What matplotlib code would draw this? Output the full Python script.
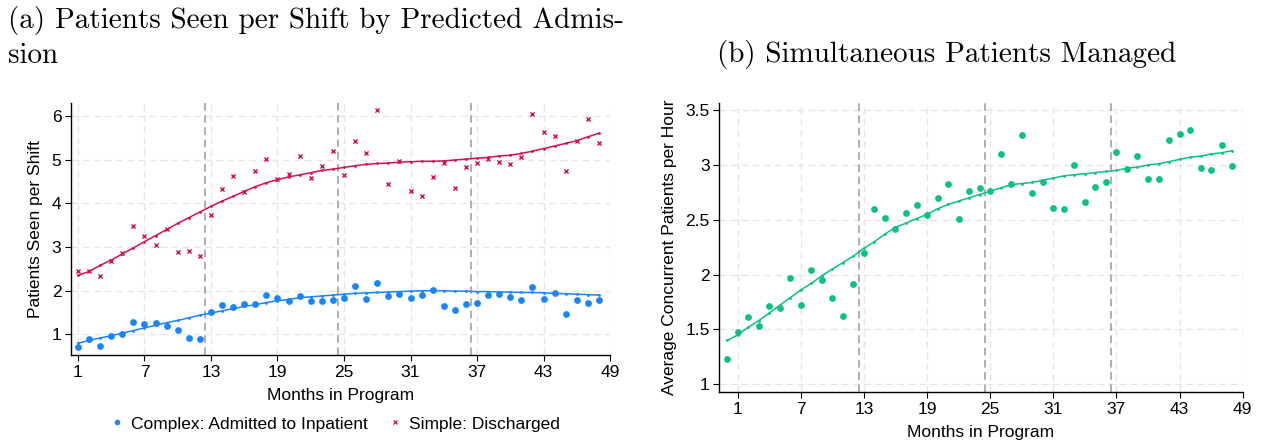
import matplotlib
matplotlib.use("Agg")
import matplotlib.pyplot as plt
from matplotlib.lines import Line2D

plt.rcParams['font.family'] = ['Liberation Sans', 'DejaVu Sans']

# ---------------- data ----------------
months_a = list(range(1, 49))
complex_seen = [0.72, 0.89, 0.74, 0.97, 1.02, 1.28, 1.25, 1.26, 1.20, 1.11, 0.93, 0.89,
                1.51, 1.68, 1.62, 1.70, 1.70, 1.91, 1.84, 1.77, 1.89, 1.76, 1.76, 1.78,
                1.83, 2.11, 1.82, 2.17, 1.89, 1.93, 1.83, 1.90, 2.02, 1.66, 1.56, 1.70,
                1.73, 1.91, 1.92, 1.85, 1.78, 2.08, 1.80, 1.95, 1.47, 1.78, 1.73, 1.79]
simple_seen = [2.46, 2.44, 2.33, 2.68, 2.86, 3.47, 3.26, 3.04, 3.40, 2.88, 2.91, 2.80,
               3.74, 4.32, 4.62, 4.26, 4.73, 5.02, 4.55, 4.68, 5.08, 4.58, 4.86, 5.20,
               4.65, 5.43, 5.15, 6.13, 4.45, 4.96, 4.28, 4.16, 4.61, 4.92, 4.34, 4.82,
               4.93, 5.01, 4.94, 4.89, 5.06, 6.05, 5.62, 5.54, 4.74, 5.42, 5.93, 5.37]
complex_fit = [0.80, 0.86, 0.92, 0.97, 1.03, 1.09, 1.15, 1.21, 1.27, 1.32, 1.38, 1.44,
               1.49, 1.54, 1.59, 1.64, 1.68, 1.73, 1.77, 1.80, 1.84, 1.86, 1.88, 1.90,
               1.92, 1.94, 1.95, 1.96, 1.97, 1.98, 1.99, 2.00, 2.00, 2.00, 1.99, 1.99,
               1.98, 1.98, 1.97, 1.97, 1.96, 1.96, 1.95, 1.94, 1.93, 1.92, 1.91, 1.90]
simple_fit = [2.35, 2.44, 2.58, 2.70, 2.84, 2.98, 3.12, 3.26, 3.40, 3.54, 3.67, 3.80,
              3.93, 4.05, 4.16, 4.27, 4.38, 4.47, 4.54, 4.60, 4.65, 4.70, 4.75, 4.78,
              4.82, 4.86, 4.89, 4.91, 4.92, 4.94, 4.95, 4.96, 4.96, 4.97, 4.99, 5.01,
              5.03, 5.05, 5.08, 5.10, 5.14, 5.19, 5.25, 5.31, 5.37, 5.43, 5.52, 5.60]

months_b = list(range(0, 49))
concurrent = [1.23, 1.48, 1.61, 1.53, 1.71, 1.70, 1.97, 1.72, 2.04, 1.95, 1.79, 1.62, 1.91,
              2.20, 2.60, 2.52, 2.42, 2.56, 2.63, 2.54, 2.70, 2.83, 2.51, 2.76, 2.79,
              2.76, 3.10, 2.83, 3.27, 2.74, 2.84, 2.61, 2.60, 3.00, 2.66, 2.80, 2.84,
              3.12, 2.96, 3.08, 2.87, 2.87, 3.23, 3.28, 3.32, 2.97, 2.95, 3.18, 2.99]
concurrent_fit = [1.40, 1.45, 1.52, 1.58, 1.65, 1.72, 1.79, 1.86, 1.92, 1.99, 2.05, 2.11, 2.17,
                  2.24, 2.30, 2.37, 2.43, 2.47, 2.51, 2.55, 2.60, 2.64, 2.67, 2.70, 2.73,
                  2.76, 2.79, 2.82, 2.83, 2.84, 2.86, 2.88, 2.90, 2.91, 2.92, 2.93, 2.94,
                  2.95, 2.97, 2.98, 3.00, 3.01, 3.03, 3.05, 3.07, 3.08, 3.10, 3.11, 3.13]

x_ticks = [1, 7, 13, 19, 25, 31, 37, 43, 49]
year_breaks = [12.5, 24.5, 36.5]
yticks_a = [1, 2, 3, 4, 5, 6]
yticks_b = [1, 1.5, 2, 2.5, 3, 3.5]
ytick_labels_b = ['1', '1.5', '2', '2.5', '3', '3.5']

BLUE = '#1a85ff'
RED = '#d41159'
GREEN = '#0cc086'
GRID = '#e6e6e6'
BREAK = '#9a9a9a'

TICK_FS = 12.5
LABEL_FS = 12.5
TITLE_FS = 21
TITLE_FONT = 'cmr10'

fig = plt.figure(figsize=(12.63, 4.40), dpi=100)


def style_axes(ax, yticks, yticklabels=None):
    for side in ('top', 'right'):
        ax.spines[side].set_visible(False)
    for side in ('left', 'bottom'):
        ax.spines[side].set_linewidth(1.0)
        ax.spines[side].set_color('black')
    ax.set_xticks(x_ticks)
    ax.set_yticks(yticks)
    if yticklabels is not None:
        ax.set_yticklabels(yticklabels)
    ax.tick_params(axis='both', direction='out', length=4, width=0.8,
                   labelsize=TICK_FS, colors='black', pad=3)
    ax.grid(True, color=GRID, linestyle=(0, (5, 3)), linewidth=1.0)
    ax.set_axisbelow(True)
    for xb in year_breaks:
        ax.axvline(xb, color=BREAK, linestyle=(0, (5, 3)), linewidth=1.1, zorder=1)


# ---------------- panel (a) ----------------
ax1 = fig.add_axes([0.0562, 0.1932, 0.4268, 0.5734])
ax1.set_xlim(0.37, 49)
ax1.set_ylim(0.53, 6.3)
style_axes(ax1, yticks_a)

ax1.plot(months_a, complex_fit, color=BLUE, linewidth=1.1, marker='.', markersize=2, zorder=3)
ax1.plot(months_a, simple_fit, color=RED, linewidth=1.1, marker='.', markersize=2, zorder=3)
ax1.scatter(months_a, complex_seen, s=24, color=BLUE, marker='o', linewidths=0, zorder=4)
ax1.scatter(months_a, simple_seen, s=9, color=RED, marker='x', linewidths=1.0, zorder=4)

ax1.set_xlabel('Months in Program', fontsize=LABEL_FS, labelpad=6)
ax1.set_ylabel('Patients Seen per Shift', fontsize=LABEL_FS, labelpad=6)

handles = [Line2D([], [], linestyle='none', marker='o', markersize=4, color=BLUE,
                  markeredgewidth=0),
           Line2D([], [], linestyle='none', marker='x', markersize=2.5, color=RED,
                  markeredgewidth=0.9)]
fig.legend(handles, ['Complex: Admitted to Inpatient', 'Simple: Discharged'],
           loc='center', bbox_to_anchor=(336 / 1263, 1 - 424 / 440), ncol=2,
           frameon=False, fontsize=LABEL_FS, handlelength=0.6, handletextpad=0.5,
           columnspacing=1.3)

fig.text(8 / 1263, 1 - 28 / 440, '(a) Patients Seen per Shift by Predicted Admis-',
         fontsize=TITLE_FS, family=TITLE_FONT, ha='left', va='baseline')
fig.text(8 / 1263, 1 - 63 / 440, 'sion',
         fontsize=TITLE_FS, family=TITLE_FONT, ha='left', va='baseline')

# ---------------- panel (b) ----------------
ax2 = fig.add_axes([0.5695, 0.1084, 0.4144, 0.6582])
ax2.set_xlim(-0.75, 49)
ax2.set_ylim(0.927, 3.567)
style_axes(ax2, yticks_b, ytick_labels_b)

ax2.plot(months_b, concurrent_fit, color=GREEN, linewidth=1.1, marker='.', markersize=2, zorder=3)
ax2.scatter(months_b, concurrent, s=24, color=GREEN, marker='o', linewidths=0, zorder=4)

ax2.set_xlabel('Months in Program', fontsize=LABEL_FS, labelpad=6)
ax2.set_ylabel('Average Concurrent Patients per Hour', fontsize=LABEL_FS, labelpad=6)

fig.text(947 / 1263, 1 - 62 / 440, '(b) Simultaneous Patients Managed',
         fontsize=TITLE_FS, family=TITLE_FONT, ha='center', va='baseline')

fig.savefig('out.png', dpi=100, facecolor='white')
